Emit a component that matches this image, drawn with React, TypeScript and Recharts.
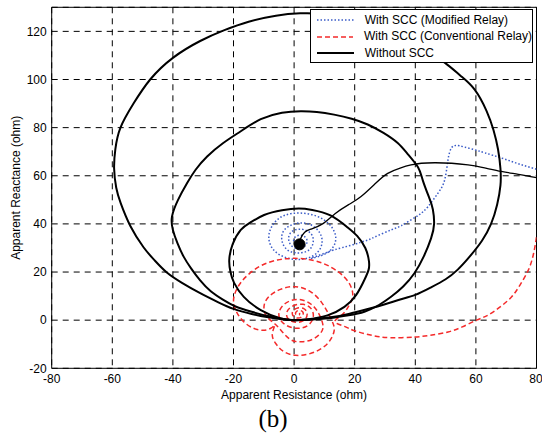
import React from "react";
import {
  LineChart, Line, XAxis, YAxis, CartesianGrid, Legend,
  ReferenceArea, ReferenceDot,
} from "recharts";

type Pt = [number, number];

// axis ticks
const X_TICKS = [-80, -60, -40, -20, 0, 20, 40, 60, 80];
const Y_TICKS = [-20, 0, 20, 40, 60, 80, 100, 120];

const SERIES_NAMES = [
  "With SCC (Modified Relay)",
  "With SCC (Conventional Relay)",
  "Without SCC",
];

// ── Without SCC : trajectory from load point to fault point ──
const NO_SCC_PATH: Pt[] = [
  [80, 59.2], [74, 60.6], [68.4, 61.8], [62, 63.5], [57.4, 64.5], [52, 65.2],
  [46.4, 65.4], [42, 65.2], [38.6, 64.5], [35, 63.2], [30.9, 61], [27, 57],
  [22.1, 51.4], [18, 48], [13.5, 44.2], [9.4, 40], [5.5, 37.8], [3.5, 36.5],
  [2.2, 34], [1.8, 31.5],
];
const FAULT_POINT: Pt = [1.8, 31.5];

// ── Without SCC : swing loops through origin ──
const NO_SCC_LOOP_BIG: Pt[] = [
  [0, 0], [6, 0.4], [12, 1.2], [18, 2.6], [24, 4.5], [30, 6.6], [35, 8.6],
  [40, 10.5], [45, 13.5], [50, 17], [54, 21], [58, 26.5], [62, 33], [65, 40],
  [67, 48], [68.1, 56], [68.1, 63], [67.3, 71], [65.8, 79], [63.5, 87],
  [59.6, 95.8], [55, 101.5], [49.7, 107], [43, 112.5], [35, 118], [27, 122],
  [18, 125.5], [9, 127.3], [2, 127.5], [-6, 126.5], [-15, 124], [-23, 120.5],
  [-31, 116], [-40, 109], [-47.5, 100], [-53, 90], [-57.3, 80], [-59, 71],
  [-59.4, 63], [-58.7, 55], [-57.2, 48.5], [-54, 39], [-49.7, 30.3],
  [-46, 24.8], [-42, 19.8], [-37, 15.5], [-31, 11.2], [-25, 7.4], [-20, 4.7],
  [-14, 2.6], [-9, 1.3], [-4, 0.4], [0, 0],
];
const NO_SCC_LOOP_MID: Pt[] = [
  [0, 0], [6, 0.3], [12.2, 0.9], [18, 2], [23.2, 3.5], [28, 6.3], [32, 9.7],
  [36, 14], [39.7, 19.5], [42.8, 26.5], [45.2, 34], [46.2, 40], [45.8, 46],
  [44.7, 50.5], [42.5, 58], [40.9, 63.5], [37.5, 69], [34.2, 73.6],
  [29.5, 77.8], [24.3, 81.3], [19, 83.7], [13.2, 85.4], [7.5, 86.5],
  [2.2, 86.8], [-4, 86.2], [-11, 83.5], [-17.6, 78.5], [-23.5, 73.5],
  [-28.7, 68], [-32.5, 62.5], [-35.3, 57], [-38.3, 50], [-40.3, 43],
  [-40, 37.5], [-38.5, 32], [-36.5, 26.5], [-34, 21.5], [-31, 16.5],
  [-27.5, 12], [-23.5, 8.5], [-19.5, 5.8], [-14, 3.5], [-9, 1.8], [-4, 0.6],
  [0, 0],
];
const NO_SCC_LOOP_SMALL: Pt[] = [
  [0, 0], [4, 0.3], [11, 2], [16.6, 5.5], [20.5, 10.5], [23.3, 17],
  [24.6, 21], [24.7, 24.5], [23.5, 30], [20.8, 35], [17.7, 38.5], [12, 43.5],
  [6, 45.8], [1.5, 46.4], [-4, 45.7], [-9.9, 43.7], [-14.5, 40.5],
  [-17.6, 37.5], [-20.3, 31.5], [-21.4, 25], [-21, 20], [-19.8, 15.5],
  [-16.6, 9.7], [-11, 4.2], [-4.4, 0.7], [0, 0],
];

// ── With SCC (Modified Relay) ──
const MODIFIED_PATH: Pt[] = [
  [80, 62.7], [74, 65], [68.4, 67.4], [63, 69.5], [59.6, 70.8], [56, 72],
  [53.5, 72.6], [51.9, 71.5], [50.8, 66.7], [49.7, 58.3], [47.5, 52.8],
  [44.2, 47.2], [41.5, 44], [38.6, 41.7], [35.3, 39.2], [32, 37.5],
  [26.5, 34.5], [24.3, 33.3], [19, 31.2], [13.2, 29.2], [9, 27.3], [5.5, 25.7],
  [8, 26.4], [11.5, 28.5], [13.5, 32], [13.5, 36], [11.5, 40], [7.5, 43.2],
  [2, 44.5], [-3, 43.6], [-6.5, 40.5], [-8.3, 35.5], [-7.5, 30.5],
  [-4.5, 27], [0, 25.3], [4.5, 25.8], [7.8, 28.3], [9.2, 32], [8.6, 36],
  [6, 39.3], [2.5, 40.4], [-1, 39.5], [-3.6, 36.8], [-4, 33], [-2.5, 29.5],
  [0.5, 28], [4, 28.5], [6, 31], [6.2, 34.5], [4.5, 37], [1.5, 37.8],
  [-1, 36.5], [-1.8, 33.5], [-0.5, 30.5], [2, 29.8], [4, 31.5], [4, 34],
  [2, 35.3], [0, 34], [0.3, 31.8], [2, 31.5],
];

// ── With SCC (Conventional Relay) ──
const CONVENTIONAL_PATH: Pt[] = [
  [80, 34.5], [79, 27.5], [77.3, 20.8], [74.5, 14.5], [71.8, 9.7], [68, 5.5],
  [64, 2.1], [60.2, 0], [55.5, -2.8], [50.8, -4.9], [45, -6.3], [39.7, -7],
  [32, -7.3], [26, -6.4], [20, -4.4], [16.6, -2.6], [13.5, -0.6], [15.8, 2.2],
  [18, 5.8], [19.3, 9.7], [18.8, 13.8], [16.5, 18], [12.2, 22], [6.5, 24.8],
  [0, 25.7], [-5.5, 25], [-11, 22.6], [-15.5, 18.5], [-18.2, 14.5],
  [-19.8, 10], [-19.8, 6], [-18.6, 2.5], [-16.5, -0.8], [-13.5, -3.3],
  [-10.2, -4.2], [-7.5, -3.2], [-6.4, -2.2], [-7.2, -6], [-6, -9.8],
  [-3.5, -13], [0.5, -14.6], [5, -14], [9, -11.8], [11.8, -8.5],
  [13.2, -4.5], [12.8, -1.2], [11.2, 3], [9, 7.5], [5.5, 11.8], [0.5, 13.9],
  [-4.5, 12.8], [-8.3, 9.8], [-9.9, 6], [-9.2, 1.8], [-6.4, -1.5],
  [-3.8, -5], [-1, -8.2], [2.5, -9], [6.3, -7.8], [9.2, -4.5], [9.3, -0.8],
  [7.8, 3.5], [5.2, 7], [1.5, 8.6], [-2.2, 7.5], [-4.6, 4.5], [-4.8, 0.8],
  [-2.5, -2.2], [1, -3.4], [4.5, -2.2], [6.3, 1.2], [5.6, 4.8], [3, 6.6],
  [-0.2, 6], [-2.3, 3.6], [-2, 0.6], [0.5, -0.9], [3.3, 0], [4.3, 2.6],
  [3.2, 4.8], [0.8, 4.9], [-0.6, 3], [0.4, 1.1], [2.4, 1.3], [2.9, 3.3],
  [1.3, 4], [0.5, 2.6], [1.6, 2.1], [1.8, 3],
];

const toRows = (pts: Pt[]) => pts.map(([x, y]) => ({ x, y }));

const FONT = "'Liberation Sans', Arial, Helvetica, sans-serif";
const BLUE = "#3a5bc7";
const RED = "#f42a2a";
const tickStyle = { fill: "#000", fontSize: 12, fontFamily: FONT };

const LEGEND_STYLES = [
  { stroke: BLUE, dash: "1.5 2", width: 1.5 },
  { stroke: RED, dash: "5 3", width: 1.5 },
  { stroke: "#000", dash: undefined, width: 1.8 },
];

const renderLegend = () => (
  <div
    style={{
      width: 223, height: 54, boxSizing: "border-box", border: "1px solid #000",
      background: "#fff", paddingTop: 1.4, fontFamily: FONT, fontSize: 12, color: "#000",
    }}
  >
    {SERIES_NAMES.map((name, i) => (
      <div key={name} style={{ display: "flex", alignItems: "center", height: 16.6 }}>
        <svg width={37} height={6} style={{ marginLeft: 5.7 }}>
          <line
            x1={0} y1={3} x2={37} y2={3}
            stroke={LEGEND_STYLES[i].stroke}
            strokeWidth={LEGEND_STYLES[i].width}
            strokeDasharray={LEGEND_STYLES[i].dash}
          />
        </svg>
        <span style={{ marginLeft: 11, whiteSpace: "nowrap", lineHeight: "16.6px" }}>{name}</span>
      </div>
    ))}
  </div>
);

export default function App() {
  const blackLoops = [NO_SCC_LOOP_BIG, NO_SCC_LOOP_MID, NO_SCC_LOOP_SMALL];

  return (
    <div style={{ position: "relative", width: 542, height: 437, background: "#fff" }}>
      <style>{"body{margin:0}"}</style>
      <LineChart
        width={542}
        height={437}
        margin={{ top: 7.3, right: 5.5, bottom: 50.7, left: 0 }}
        style={{ fontFamily: FONT }}
      >
        <CartesianGrid stroke="#000" strokeDasharray="6 5" strokeWidth={1} />
        <XAxis
          type="number" dataKey="x" domain={[-80, 80]} ticks={X_TICKS}
          allowDataOverflow axisLine={false} tickLine={false}
          tickSize={4} tickMargin={2} height={18} tick={tickStyle}
          label={{ value: "Apparent Resistance (ohm)", position: "bottom", offset: 4, fill: "#000", fontSize: 12 }}
        />
        <YAxis
          type="number" dataKey="y" domain={[-20, 130]} ticks={Y_TICKS}
          allowDataOverflow axisLine={false} tickLine={false}
          tickSize={3} tickMargin={2} width={51.7} tick={tickStyle}
          label={{
            value: "Apparent Reactance (ohm)", angle: -90, position: "insideLeft", offset: 16,
            fill: "#000", fontSize: 12, style: { textAnchor: "middle" },
          }}
        />

        <Line
          data={toRows(MODIFIED_PATH)} dataKey="y" name={SERIES_NAMES[0]} type="natural"
          stroke={BLUE} strokeWidth={1.5} strokeDasharray="1.5 2"
          dot={false} activeDot={false} isAnimationActive={false} legendType="none"
        />
        <Line
          data={toRows(CONVENTIONAL_PATH)} dataKey="y" name={SERIES_NAMES[1]} type="natural"
          stroke={RED} strokeWidth={1.5} strokeDasharray="5 3"
          dot={false} activeDot={false} isAnimationActive={false} legendType="none"
        />
        {blackLoops.map((loop, i) => (
          <Line
            key={i} data={toRows(loop)} dataKey="y" name={`${SERIES_NAMES[2]} ${i}`} type="natural"
            stroke="#000" strokeWidth={2}
            dot={false} activeDot={false} isAnimationActive={false} legendType="none"
          />
        ))}
        <Line
          data={toRows(NO_SCC_PATH)} dataKey="y" name={SERIES_NAMES[2]} type="natural"
          stroke="#000" strokeWidth={1.3}
          dot={false} activeDot={false} isAnimationActive={false} legendType="none"
        />
        <ReferenceDot x={FAULT_POINT[0]} y={FAULT_POINT[1]} r={5.5} fill="#000" stroke="#000" />
        <ReferenceArea x1={-80} x2={80} y1={-20} y2={130} fill="none" stroke="#000" strokeWidth={1} />

        <Legend
          layout="vertical" align="center" verticalAlign="middle"
          content={renderLegend}
          wrapperStyle={{ left: 310, top: 9.3, width: 223, height: 54 }}
        />
      </LineChart>
      <div
        style={{
          position: "absolute", left: 0, top: 406.4, width: 546, textAlign: "center",
          fontFamily: "'Liberation Serif', 'Times New Roman', serif", fontSize: 25, lineHeight: "25px", color: "#000",
        }}
      >
        (b)
      </div>
    </div>
  );
}
